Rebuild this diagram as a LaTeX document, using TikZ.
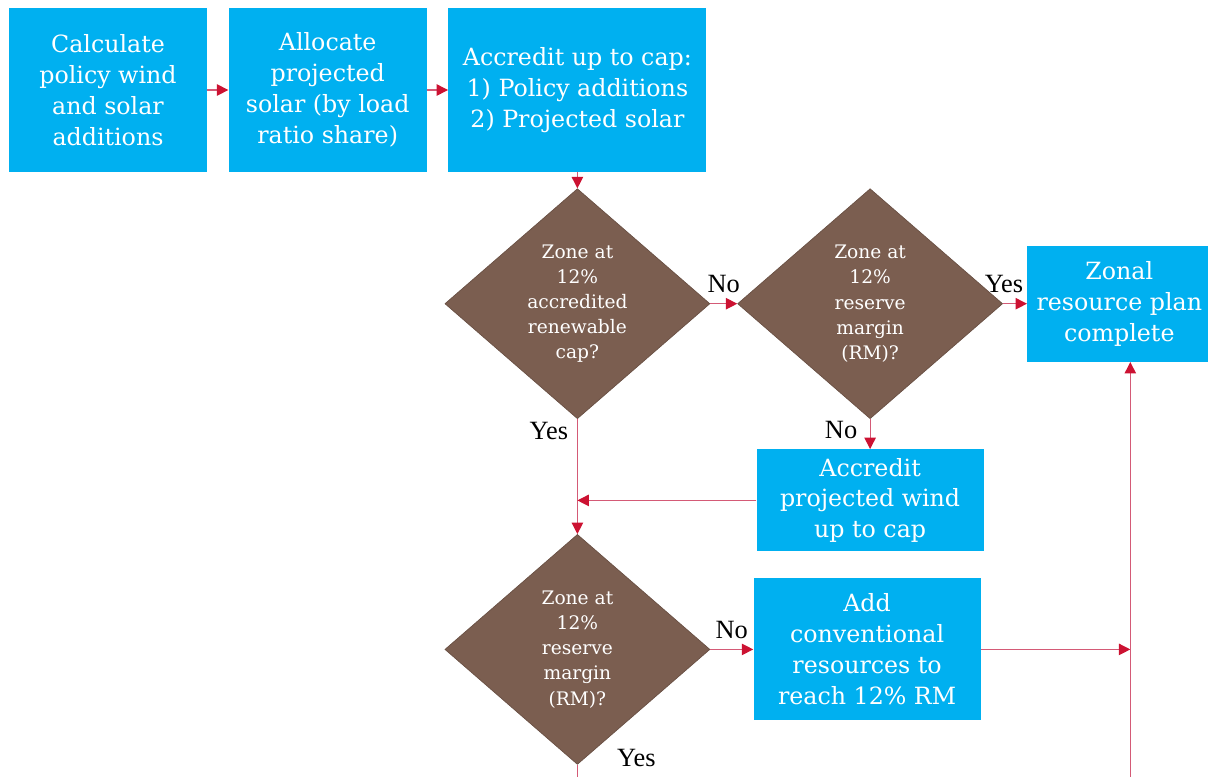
\documentclass[tikz,border=0pt]{standalone}
\usepackage{fontspec}
\setmainfont{DejaVu Serif}
\newfontfamily\yesnofont{Liberation Serif}
\usetikzlibrary{shapes.geometric}
\usetikzlibrary{arrows.meta}
\usetikzlibrary{positioning}
\definecolor{boxblue}{RGB}{0,176,240}
\definecolor{qbrown}{RGB}{123,94,80}
\definecolor{flowred}{RGB}{212,90,118}
\definecolor{tipred}{RGB}{204,18,50}

\begin{document}
\begin{tikzpicture}[node distance=0.42cm, box/.style={rectangle,fill=boxblue,text=white,align=center,minimum width=3.96cm,minimum height=3.28cm,inner sep=2pt,font=\fontsize{13.5}{17.6}\selectfont}, query/.style={diamond,fill=qbrown,draw=qbrown!85!black,line width=0.4pt,text=white,align=center,minimum width=5.3cm,minimum height=4.6cm,inner sep=0pt,font=\fontsize{10.6}{14.3}\selectfont}, yn/.style={text=black,font=\yesnofont\fontsize{15}{15}\selectfont,inner sep=1pt}, flow/.style={draw=flowred,line width=0.7pt,-{Triangle[length=6.5pt,width=6.5pt,color=tipred,fill=tipred]}}]
	  \useasboundingbox (0,0) rectangle (24.16,-15.52);
	  \node[box] (calc) at (2.16,-1.8) {Calculate\\policy wind\\and solar\\additions};
	  \node[box] (alloc) [right = of calc] {Allocate\\projected\\solar (by load\\ratio share)};
	  \node[box, minimum width=5.16cm] (accr) [right = of alloc] {Accredit up to cap:\\1) Policy additions\\2) Projected solar};
	  \node[query] (capq) [below = 0.32cm of accr] {Zone at\\12\%\\accredited\\renewable\\cap?};
	  \node[query] (rmq) [right = 0.54cm of capq] {Zone at\\12\%\\reserve\\margin\\(RM)?};
	  \node[box, minimum width=3.68cm, minimum height=2.32cm] (done) [right = 0.48cm of rmq] {Zonal\\resource plan\\complete};
	  \node[box, minimum width=4.54cm, minimum height=2.04cm] (wind) [below = 0.6cm of rmq] {Accredit\\projected wind\\up to cap};
	  \node[query] (rmq2) [below = 2.3cm of capq] {Zone at\\12\%\\reserve\\margin\\(RM)?};
	  \node[box, minimum width=4.54cm, minimum height=2.84cm] (conv) [right = 0.86cm of rmq2] {Add\\conventional\\resources to\\reach 12\% RM};
	  % loose ends at the bottom edge
	  \coordinate[below = 0.3cm of rmq2] (out);
	  \coordinate (back) at ([xshift=0.22cm]done.south |- out);

	  \path[flow]
	    (calc) edge (alloc)
	    (alloc) edge (accr)
	    (accr) edge (capq)

	    (capq) edge node [yn, above=5pt] {No} (rmq)
	    (rmq) edge node [yn, above=5pt, xshift=-0.22cm] {Yes} (done)
	    (rmq) edge node [yn, left=6pt, pos=0.35] {No} (wind)

	    (capq) edge node [yn, left=4pt, pos=0.1] {Yes} (rmq2)
	    (wind) edge (wind.west -| capq.south)

	    (rmq2) edge node [yn, above=5pt] {No} (conv)
	    (conv) edge (conv.east -| back)
	    (back) edge (done.south -| back);

	  \draw[flow, -] (rmq2) -- node [yn, pos=0, xshift=1.18cm, yshift=0.14cm] {Yes} (out);
	\end{tikzpicture}
\end{document}
